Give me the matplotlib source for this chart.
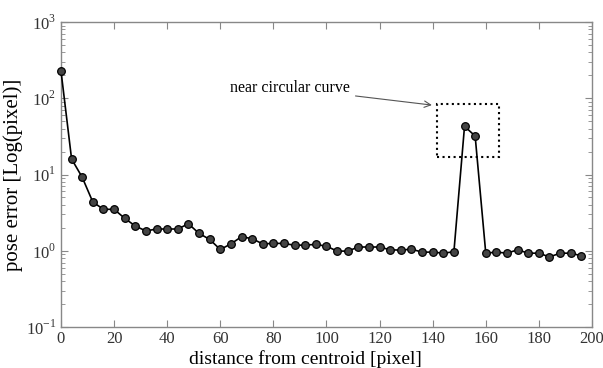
import matplotlib.pyplot as plt
from matplotlib.patches import Rectangle
from matplotlib.ticker import LogLocator, FixedLocator

plt.rcParams['font.family'] = ['Liberation Serif', 'DejaVu Serif']
plt.rcParams['mathtext.fontset'] = 'custom'
plt.rcParams['mathtext.rm'] = 'Liberation Serif'

# data
distance = list(range(0, 200, 4))
pose_error = [230, 16.0, 9.2, 4.36, 3.5, 3.5, 2.67, 2.11, 1.82, 1.93,
              1.93, 1.93, 2.26, 1.69, 1.41, 1.04, 1.23, 1.53, 1.44, 1.23,
              1.25, 1.25, 1.18, 1.19, 1.21, 1.15, 0.99, 0.99, 1.12, 1.12,
              1.12, 1.03, 1.02, 1.05, 0.96, 0.96, 0.93, 0.97, 43, 32,
              0.93, 0.96, 0.93, 1.03, 0.93, 0.93, 0.83, 0.93, 0.93, 0.86]
x_ticks = list(range(0, 201, 20))
y_ticks = [0.1, 1, 10, 100, 1000]
y_ticklabels = ['$10^{-1}$', '$10^{0}$', '$10^{1}$', '$10^{2}$', '$10^{3}$']

fig = plt.figure(figsize=(6.03, 3.68), dpi=100)
ax = fig.add_axes([0.1011, 0.1114, 0.8806, 0.8286])

ax.plot(distance, pose_error, color='black', lw=1.2, marker='o', ms=5.5,
        mfc='#444444', mec='black', mew=0.9, clip_on=False, zorder=3)
ax.set_yscale('log')
ax.set_xlim(0, 200)
ax.set_ylim(0.1, 1000)

ax.xaxis.set_major_locator(FixedLocator(x_ticks))
ax.set_yticks(y_ticks)
ax.set_yticklabels(y_ticklabels)
ax.yaxis.set_minor_locator(LogLocator(base=10, subs=range(2, 10)))
ax.yaxis.set_minor_formatter(plt.NullFormatter())

for s in ax.spines.values():
    s.set_color('#888888')
    s.set_linewidth(1.0)
ax.tick_params(which='both', direction='in', top=True, right=True,
               color='#888888', labelcolor='#333333', labelsize=12)
ax.tick_params(which='major', length=5)
ax.tick_params(which='minor', length=3)
ax.tick_params(axis='x', pad=3)

ax.set_xlabel('distance from centroid [pixel]', fontsize=14, labelpad=0)
ax.xaxis.set_label_coords(0.46, -0.075)
ax.set_ylabel('pose error [Log(pixel)]', fontsize=15, labelpad=2)

# highlight box and annotation
ax.add_patch(Rectangle((141.6, 17), 23.4, 67, fill=False, ls=':', lw=1.5,
                       ec='black'))
ax.annotate('near circular curve', xy=(139.7, 81.5), xytext=(63.7, 136),
            fontsize=11.5, va='center', ha='left',
            arrowprops=dict(arrowstyle='->', color='#555555', lw=0.8,
                            shrinkA=2, shrinkB=0))

fig.savefig('out.png', dpi=100)
